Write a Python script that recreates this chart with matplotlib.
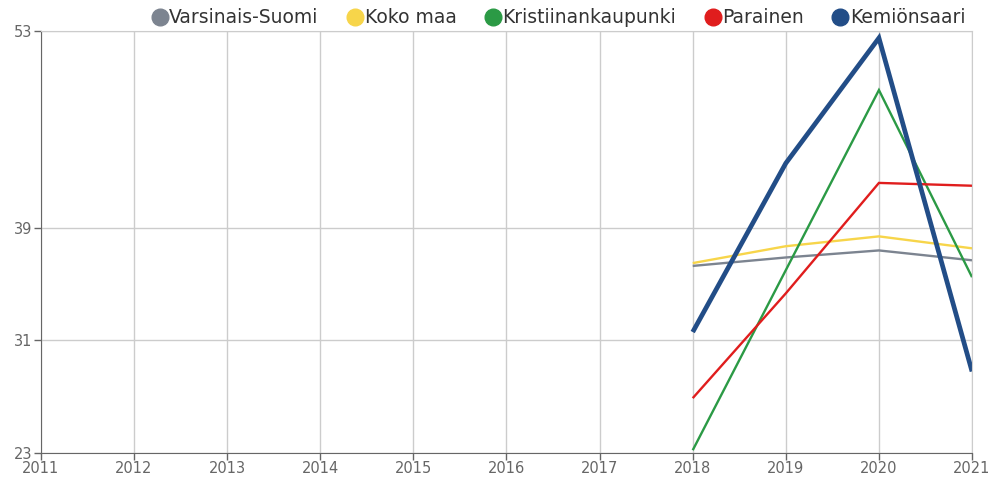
import numpy as np
import matplotlib.pyplot as plt
from matplotlib.lines import Line2D

# Data
years = [2018, 2019, 2020, 2021]
varsinais_suomi = [36.3, 36.9, 37.4, 36.7]
koko_maa = [36.5, 37.7, 38.4, 37.55]
kristiinankaupunki = [23.2, 36.0, 48.8, 35.5]
parainen = [26.9, 34.35, 42.2, 42.0]
kemionsaari = [31.6, 43.6, 52.5, 28.8]

names = ["Varsinais-Suomi", "Koko maa", "Kristiinankaupunki", "Parainen", "Kemiönsaari"]
series = [varsinais_suomi, koko_maa, kristiinankaupunki, parainen, kemionsaari]
colors = ["#7c8490", "#f7d54a", "#2b9a45", "#e01d1d", "#224d87"]
widths = [1.7, 1.7, 1.7, 1.7, 3.4]

x_ticks = list(range(2011, 2022))
y_ticks = [23, 31, 39, 53]

fig = plt.figure(figsize=(9.94, 4.84), dpi=100)
ax = fig.add_axes([0.0412, 0.064, 0.9367, 0.872])

for vals, c, w in zip(series, colors, widths):
    ax.plot(years, vals, color=c, linewidth=w, solid_capstyle='butt', solid_joinstyle='miter')

ax.set_xlim(2011, 2021)
ax.set_ylim(23, 53)
ax.set_xticks(x_ticks)
ax.set_yticks(y_ticks)
ax.grid(color='#cccccc', linewidth=1)
ax.set_axisbelow(True)
for s in ['top', 'right']:
    ax.spines[s].set_color('#cccccc')
for s in ['left', 'bottom']:
    ax.spines[s].set_color('#666666')
ax.tick_params(axis='both', colors='#666666', labelsize=10.5, length=5, width=1, pad=1)

# legend across the top
handles = [Line2D([], [], marker='o', linestyle='', markersize=12, color=c) for c in colors]
fig.legend(handles, names, loc='upper right', bbox_to_anchor=(0.988, 1.018), ncol=5,
           frameon=False, fontsize=13.5, handletextpad=0.0, columnspacing=1.45,
           handlelength=1.0, labelcolor='#333333')

plt.savefig("out.png", dpi=100)
